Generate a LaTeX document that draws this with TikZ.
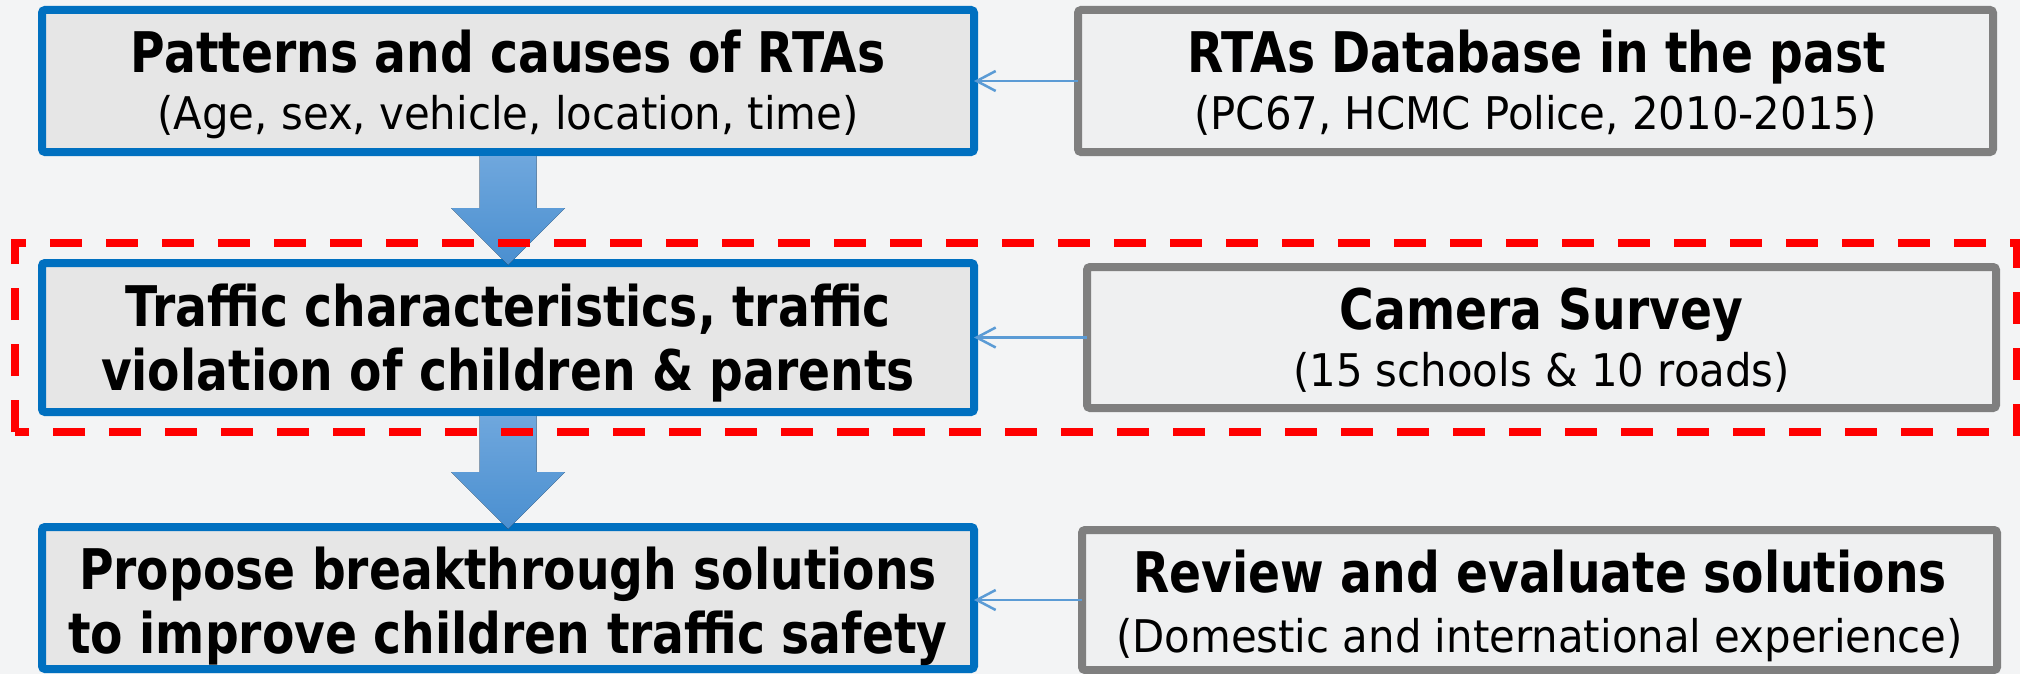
\documentclass[tikz,border=0pt]{standalone}
\usepackage{fontspec}
\setmainfont{DejaVu Sans}[FakeStretch=0.93]
\newfontfamily\headfont{DejaVu Sans}[FakeStretch=0.843]
\usetikzlibrary{arrows.meta}
\usetikzlibrary{calc}

\definecolor{boxblue}{RGB}{0,112,192}
\definecolor{boxgray}{RGB}{127,127,127}
\definecolor{linkblue}{RGB}{91,155,213}
\definecolor{pagebg}{RGB}{243,244,245}
\definecolor{fillblue}{RGB}{230,230,230}
\definecolor{fillgray}{RGB}{239,240,241}
\definecolor{arrtop}{RGB}{111,167,221}
\definecolor{arrbot}{RGB}{74,143,208}

\newcommand{\headtxt}{\headfont\bfseries\fontsize{56}{64}\selectfont}
\newcommand{\subtxt}{\fontsize{45}{54}\selectfont}

\begin{document}
\begin{tikzpicture}[x=1pt,y=1pt,yscale=-1,
  mainbox/.style={draw=boxblue,fill=fillblue,line width=8pt,rounded corners=3pt,inner sep=0pt,outer sep=0pt},
  sidebox/.style={draw=boxgray,fill=fillgray,line width=8pt,rounded corners=3pt,inner sep=0pt,outer sep=0pt},
  link/.style={draw=linkblue,line width=2.5pt,-{Straight Barb[length=19pt,width=20pt]}},
  bigarrow/.style={top color=arrtop,bottom color=arrbot,draw=none},
  groupline/.style={draw=red,line width=8pt,dash pattern=on 32pt off 24pt},
  head/.style={anchor=base,inner sep=0pt,font=\headtxt},
  sub/.style={anchor=base,inner sep=0pt,font=\subtxt}]
\useasboundingbox (0,0) rectangle (2020,674);
\fill[pagebg] (0,0) rectangle (2020,674);

%Shape: Rectangle [left column]
\node[mainbox,minimum width=932pt,minimum height=142pt] (pat) at (508,81) {};
\node[mainbox,minimum width=932pt,minimum height=149pt] (trf) at (508,337.5) {};
\node[mainbox,minimum width=932pt,minimum height=142pt] (pro) at (508,598) {};
%Shape: Rectangle [right column]
\node[sidebox,minimum width=915pt,minimum height=142pt] (db) at (1535.5,81) {};
\node[sidebox,minimum width=909pt,minimum height=141pt] (cam) at (1541.5,337.5) {};
\node[sidebox,minimum width=915pt,minimum height=140pt] (rev) at (1539.5,600) {};

%Block Arrows
\foreach \a/\b in {pat/trf,trf/pro}
  \fill[bigarrow] ($(\a.south)+(-28.5,4)$) -- ($(\b.north)+(-28.5,-55)$) -- ($(\b.north)+(-57,-55)$)
    -- ($(\b.north)+(0,2)$) -- ($(\b.north)+(57,-55)$) -- ($(\b.north)+(28.5,-55)$)
    -- ($(\a.south)+(28.5,4)$) -- cycle;

%Straight Lines
\draw[link] (db.west) -- (pat.east |- db.west);
\draw[link] (cam.west) -- (trf.east |- cam.west);
\draw[link] (rev.west) -- (pro.east |- rev.west);

%Shape: Rectangle [dashed group]
\draw[groupline] (15,432) rectangle (2017,243);

% Text Node
\node[head] (pat-h) at (508,73) {Patterns and causes of RTAs};
\node[sub] (pat-s) at (508,130) {(Age, sex, vehicle, location, time)};
% Text Node
\node[head] (db-h) at (1537,73) {RTAs Database in the past};
\node[sub] (db-s) at (1535.5,130) {(PC67, HCMC Police, 2010-2015)};
% Text Node
\node[head] (trf-h) at (508,326) {Traffic characteristics, traffic};
\node[head] (trf-h2) at (508,390) {violation of children \& parents};
% Text Node
\node[head] (cam-h) at (1541.5,329.5) {Camera Survey};
\node[sub] (cam-s) at (1541.5,386.5) {(15 schools \& 10 roads)};
% Text Node
\node[head] (pro-h) at (508,589) {Propose breakthrough solutions};
\node[head] (pro-h2) at (508,653) {to improve children traffic safety};
% Text Node
\node[head] (rev-h) at (1540,592) {Review and evaluate solutions};
\node[sub] (rev-s) at (1539.5,652) {(Domestic and international experience)};

\end{tikzpicture}
\end{document}
